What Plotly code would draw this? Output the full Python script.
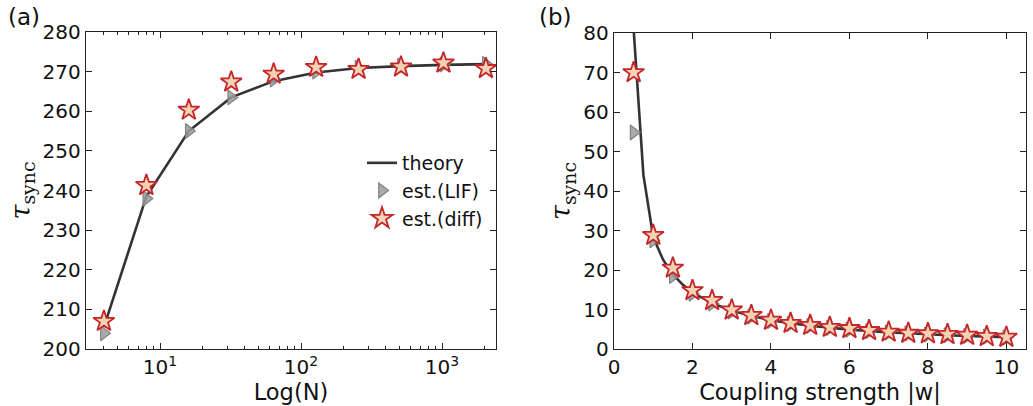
import numpy as np
import plotly.graph_objects as go

# ---- panel (a): tau_sync vs network size N ----
n_sizes = [4, 8, 16, 32, 64, 128, 256, 512, 1024, 2048]
theory_n = [205.5, 238.5, 255.0, 263.5, 267.6, 269.8, 270.9, 271.4, 271.7, 271.9]
lif_n = [204.0, 238.0, 255.0, 263.5, 268.0, 270.0, 271.0, 271.5, 271.8, 271.9]
diff_n = [207.0, 241.3, 260.3, 267.4, 269.4, 271.1, 270.6, 271.2, 272.2, 270.8]

# ---- panel (b): tau_sync vs coupling strength |w| ----
w_theory = [0.5, 0.75, 1.0, 1.25, 1.5, 1.75, 2.0, 2.5, 3.0, 3.5, 4.0, 4.5, 5.0,
            5.5, 6.0, 6.5, 7.0, 7.5, 8.0, 8.5, 9.0, 9.5, 10.0]
theory_w = [81.0, 44.0, 28.3, 22.6, 18.9, 16.3, 14.3, 11.6, 9.7, 8.4, 7.3, 6.5, 5.9,
            5.4, 4.9, 4.6, 4.2, 4.0, 3.7, 3.5, 3.3, 3.1, 3.0]
w_est = [0.5, 1.0, 1.5, 2.0, 2.5, 3.0, 3.5, 4.0, 4.5, 5.0,
         5.5, 6.0, 6.5, 7.0, 7.5, 8.0, 8.5, 9.0, 9.5, 10.0]
lif_w = [54.8, 27.5, 18.5, 14.0, 11.5, 9.5, 8.2, 7.1, 6.3, 5.8,
         5.3, 4.9, 4.5, 4.2, 3.9, 3.7, 3.5, 3.3, 3.1, 2.9]
diff_w = [70.0, 28.8, 20.5, 14.8, 12.3, 9.9, 8.5, 7.3, 6.5, 6.0,
          5.5, 5.2, 4.7, 4.3, 4.0, 3.9, 3.7, 3.5, 3.2, 3.0]

LINE_COLOR = "#333333"
STAR_EDGE = "#c4262a"
STAR_FILL = "#f4d3b4"
TRI_FILL = "rgba(155,155,155,0.85)"
TRI_EDGE = "#828282"
FONT = "DejaVu Sans"

W, H = 1033, 406

def px_x(p):
    return p / W

def px_y(p):
    return 1 - p / H

fig = go.Figure()

def add_panel(x, theory_x, theory_y, lif_y, diff_y, xa, ya, show_legend):
    fig.add_trace(go.Scatter(
        x=theory_x, y=theory_y, mode="lines", name="theory",
        line=dict(color=LINE_COLOR, width=2.6), xaxis=xa, yaxis=ya,
        showlegend=show_legend, cliponaxis=True))
    fig.add_trace(go.Scatter(
        x=x, y=lif_y, mode="markers", name="est.(LIF)",
        marker=dict(symbol="triangle-right", size=13, color=TRI_FILL,
                    line=dict(color=TRI_EDGE, width=1.2)),
        xaxis=xa, yaxis=ya, showlegend=show_legend, cliponaxis=False))
    fig.add_trace(go.Scatter(
        x=x, y=diff_y, mode="markers", name="est.(diff)",
        marker=dict(symbol="star", size=16, color=STAR_FILL,
                    line=dict(color=STAR_EDGE, width=1.8)),
        xaxis=xa, yaxis=ya, showlegend=show_legend, cliponaxis=False))

add_panel(n_sizes, n_sizes, theory_n, lif_n, diff_n, "x", "y", True)
add_panel(w_est, w_theory, theory_w, lif_w, diff_w, "x2", "y2", False)

# invisible copy of the theory curve so the top log axis gets drawn
fig.add_trace(go.Scatter(
    x=n_sizes, y=theory_n, mode="lines", line=dict(width=0),
    opacity=0, hoverinfo="skip", showlegend=False, xaxis="x3", yaxis="y"))

axis_common = dict(
    showline=True, linecolor="#222222", linewidth=1.4, mirror="ticks",
    ticks="inside", ticklen=6, tickwidth=1.2, tickcolor="#222222",
    showgrid=False, zeroline=False, automargin=False,
    tickfont=dict(family=FONT, size=20, color="#111111"),
)

title_font = dict(family=FONT, size=22.5, color="#111111")
tau_title = dict(text="<i>τ</i><sub>sync</sub>",
                 font=dict(family="DejaVu Serif", size=27, color="#111111"))

# minor ticks of the log axis at 2..9 of every decade
minor_vals = [m * 10 ** e for e in range(0, 4) for m in range(2, 10)]
minor_style = dict(ticks="inside", ticklen=3, tickwidth=1, tickcolor="#222222",
                   showgrid=False, tickvals=minor_vals)
log_range = [0.475, 3.383]

fig.update_layout(
    width=W, height=H,
    margin=dict(l=0, r=0, t=0, b=0),
    paper_bgcolor="white", plot_bgcolor="white",
    xaxis=dict(
        axis_common, type="log", domain=[px_x(86), px_x(496)],
        range=log_range, anchor="y",
        tickvals=[10, 100, 1000],
        ticktext=["10<sup>1</sup>", "10<sup>2</sup>", "10<sup>3</sup>"],
        minor=minor_style,
        title=dict(text="Log(N)", font=title_font, standoff=2),
    ),
    # top copy of the log axis, carrying the mirrored minor ticks
    xaxis3=dict(
        type="log", overlaying="x", side="top", anchor="y",
        range=log_range, showline=False, showgrid=False, zeroline=False,
        ticks="inside", ticklen=6, tickwidth=1.2, tickcolor="#222222",
        tickvals=[10, 100, 1000], showticklabels=False, automargin=False,
        minor=minor_style,
    ),
    yaxis=dict(
        axis_common, domain=[px_y(349), px_y(32)], range=[200, 280],
        tickvals=[200, 210, 220, 230, 240, 250, 260, 270, 280], anchor="x",
        title=dict(tau_title, standoff=4),
    ),
    xaxis2=dict(
        axis_common, domain=[px_x(614), px_x(1026)], range=[0, 10.5],
        tickvals=[0, 2, 4, 6, 8, 10], anchor="y2",
        title=dict(text="Coupling strength |w|", font=title_font, standoff=2),
    ),
    yaxis2=dict(
        axis_common, domain=[px_y(349), px_y(33)], range=[0, 80],
        tickvals=[0, 10, 20, 30, 40, 50, 60, 70, 80], anchor="x2",
        title=dict(tau_title, standoff=4),
    ),
    legend=dict(
        x=px_x(362), y=px_y(144), xanchor="left", yanchor="top",
        bgcolor="rgba(0,0,0,0)", borderwidth=0,
        font=dict(family=FONT, size=19, color="#111111"),
        itemsizing="trace", tracegroupgap=1,
    ),
    annotations=[
        dict(text="(a)", x=px_x(6), y=px_y(2), xref="paper", yref="paper",
             xanchor="left", yanchor="top", showarrow=False,
             font=dict(family=FONT, size=23, color="#111111")),
        dict(text="(b)", x=px_x(537), y=px_y(2), xref="paper", yref="paper",
             xanchor="left", yanchor="top", showarrow=False,
             font=dict(family=FONT, size=23, color="#111111")),
    ],
)

fig.write_html("out.html")
